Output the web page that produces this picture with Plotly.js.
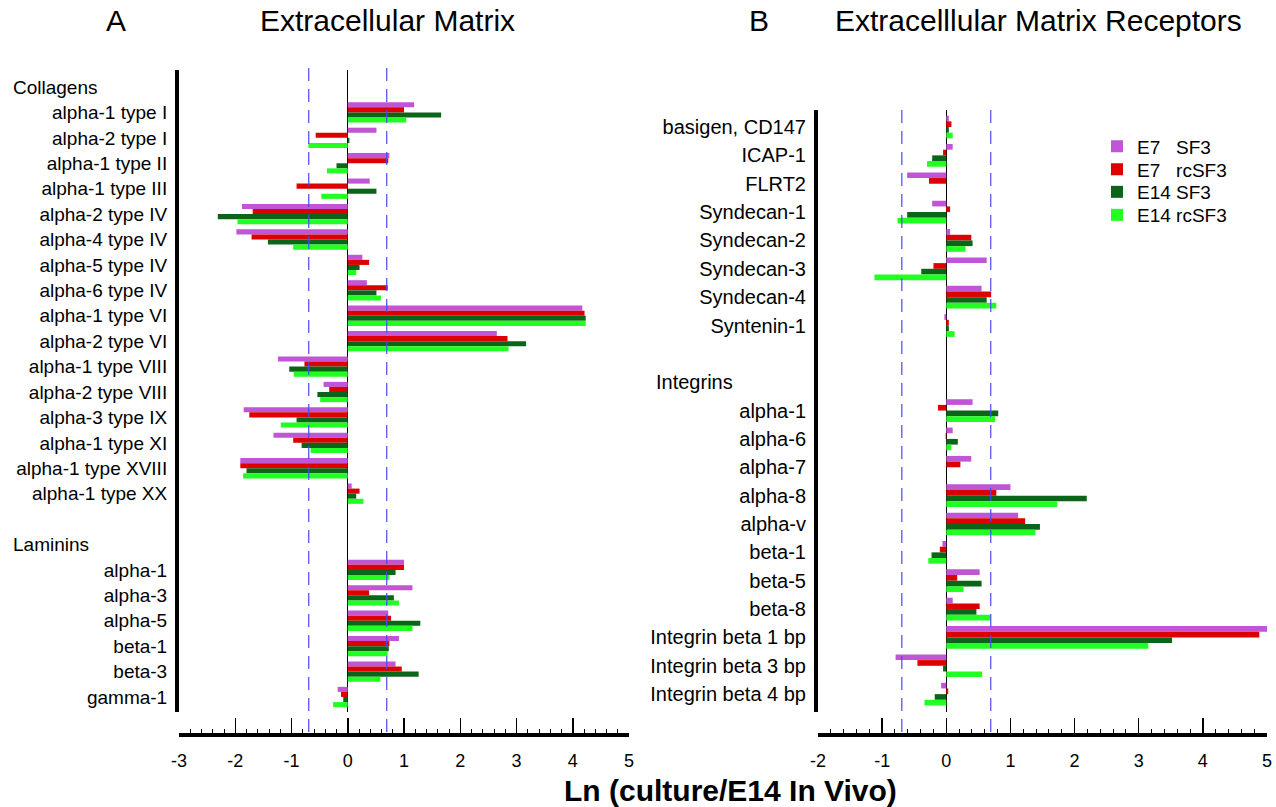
<!DOCTYPE html>
<html><head><meta charset="utf-8">
<script src="https://cdn.plot.ly/plotly-3.0.1.min.js"></script>
<style>html,body{margin:0;padding:0;background:#fff}</style>
</head><body><div id="chart" style="width:1276px;height:807px"></div>
<script>
// ---- series ----
const seriesNames = ["E7\u00a0\u00a0\u00a0SF3", "E7\u00a0\u00a0\u00a0rcSF3", "E14 SF3", "E14 rcSF3"];
const seriesColors = ["#c055d6", "#dd0000", "#0b6418", "#22ff22"];

// ---- Panel A: Extracellular Matrix ----
const collagenNames = ["alpha-1 type I","alpha-2 type I","alpha-1 type II","alpha-1 type III","alpha-2 type IV","alpha-4 type IV","alpha-5 type IV","alpha-6 type IV","alpha-1 type VI","alpha-2 type VI","alpha-1 type VIII","alpha-2 type VIII","alpha-3 type IX","alpha-1 type XI","alpha-1 type XVIII","alpha-1 type XX"];
const collagenE7SF3   = [1.18, 0.51, 0.74, 0.39, -1.88, -1.98, 0.26, 0.34, 4.17, 2.65, -1.24, -0.43, -1.85, -1.32, -1.91, 0.07];
const collagenE7rcSF3 = [1.00, -0.57, 0.72, -0.91, -1.69, -1.71, 0.38, 0.71, 4.21, 2.84, -0.77, -0.33, -1.75, -0.97, -1.91, 0.21];
const collagenE14SF3  = [1.66, 0.03, -0.20, 0.51, -2.31, -1.42, 0.21, 0.51, 4.23, 3.17, -1.04, -0.54, -0.91, -0.82, -1.80, 0.15];
const collagenE14rcSF3= [1.04, -0.70, -0.37, -0.47, -1.96, -0.97, 0.15, 0.59, 4.23, 2.86, -0.96, -0.49, -1.19, -0.66, -1.86, 0.28];

const lamininNames = ["alpha-1","alpha-3","alpha-5","beta-1","beta-3","gamma-1"];
const lamininE7SF3    = [1.00, 1.15, 0.72, 0.91, 0.85, -0.18];
const lamininE7rcSF3  = [1.00, 0.38, 0.77, 0.74, 0.96, -0.12];
const lamininE14SF3   = [0.85, 0.82, 1.29, 0.73, 1.26, -0.08];
const lamininE14rcSF3 = [0.74, 0.91, 1.15, 0.71, 0.58, -0.26];

// ---- Panel B: Extracellular Matrix Receptors ----
const receptorNames = ["basigen, CD147","ICAP-1","FLRT2","Syndecan-1","Syndecan-2","Syndecan-3","Syndecan-4","Syntenin-1"];
const receptorE7SF3    = [0.04, 0.10, -0.61, -0.22, 0.06, 0.63, 0.55, -0.03];
const receptorE7rcSF3  = [0.08, -0.05, -0.27, 0.06, 0.39, -0.20, 0.70, 0.04];
const receptorE14SF3   = [0.04, -0.22, 0, -0.61, 0.41, -0.39, 0.63, 0.04];
const receptorE14rcSF3 = [0.10, -0.30, 0, -0.76, 0.30, -1.12, 0.78, 0.13];

const integrinNames = ["alpha-1","alpha-6","alpha-7","alpha-8","alpha-v","beta-1","beta-5","beta-8","Integrin beta 1 bp","Integrin beta 3 bp","Integrin beta 4 bp"];
const integrinE7SF3    = [0.41, 0.10, 0.39, 1.00, 1.12, -0.06, 0.52, 0.10, 5.00, -0.79, -0.08];
const integrinE7rcSF3  = [-0.13, -0.01, 0.22, 0.78, 1.23, -0.10, 0.17, 0.52, 4.88, -0.45, 0.03];
const integrinE14SF3   = [0.81, 0.18, 0, 2.19, 1.46, -0.23, 0.55, 0.47, 3.52, -0.05, -0.18];
const integrinE14rcSF3 = [0.76, 0.08, 0, 1.73, 1.39, -0.28, 0.27, 0.69, 3.15, 0.56, -0.34];

// ---- tick labels ----
const xTickValsA = [-3, -2, -1, 0, 1, 2, 3, 4, 5];
const xTickTextA = ["-3", "-2", "-1", "0", "1", "2", "3", "4", "5"];
const xTickValsB = [-2, -1, 0, 1, 2, 3, 4, 5];
const xTickTextB = ["-2", "-1", "0", "1", "2", "3", "4", "5"];

const headersA = ["Collagens", "Laminins"];
const headersB = ["Integrins"];
const THRESH = Math.LN2;   // 2-fold change

// ---- build rows ----
const leftRows = ["Collagens", ...collagenNames, " ", "Laminins", ...lamininNames];
const leftTicks = leftRows.map(r => (headersA.includes(r) ? "" : r));
const rightRows = [...receptorNames, " ", "Integrins", ...integrinNames];
const rightTicks = rightRows.map(r => (headersB.includes(r) ? "" : r));

const colSeries = [collagenE7SF3, collagenE7rcSF3, collagenE14SF3, collagenE14rcSF3];
const lamSeries = [lamininE7SF3, lamininE7rcSF3, lamininE14SF3, lamininE14rcSF3];
const recSeries = [receptorE7SF3, receptorE7rcSF3, receptorE14SF3, receptorE14rcSF3];
const intSeries = [integrinE7SF3, integrinE7rcSF3, integrinE14SF3, integrinE14rcSF3];

const legendIds = ["legend", "legend2", "legend3", "legend4"];

const traces = [];
for (let s = 0; s < 4; s++) {
  traces.push({
    type: "bar", orientation: "h", name: seriesNames[s], legend: legendIds[s],
    x: [null, ...colSeries[s], null, null, ...lamSeries[s]],
    y: leftRows, xaxis: "x", yaxis: "y",
    marker: { color: seriesColors[s], line: { width: 0 } },
    showlegend: true, hoverinfo: "x+y"
  });
}
for (let s = 0; s < 4; s++) {
  traces.push({
    type: "bar", orientation: "h", name: seriesNames[s],
    x: [...recSeries[s], null, null, ...intSeries[s]],
    y: rightRows, xaxis: "x2", yaxis: "y2",
    marker: { color: seriesColors[s], line: { width: 0 } },
    showlegend: false, hoverinfo: "x+y"
  });
}

const W = 1276, H = 807;
const px = v => v / W;
const py = v => 1 - v / H;
const FONT = "Liberation Sans, Arial, Helvetica, sans-serif";

function xAxis(domain, range, vals, text) {
  return {
    domain: domain, range: range, anchor: "free", position: py(735),
    showline: true, linewidth: 4, linecolor: "#000",
    ticks: "inside", ticklen: 15, tickwidth: 1.5, tickcolor: "#000",
    tickmode: "array", tickvals: vals, ticktext: text,
    ticklabelstandoff: 8,
    minor: { tickmode: "linear", tick0: 0, dtick: 0.2, ticks: "inside", ticklen: 4, tickwidth: 1, tickcolor: "#000", showgrid: false },
    showgrid: false, zeroline: true, zerolinecolor: "#000", zerolinewidth: 1,
    tickfont: { size: 18, color: "#000" }, fixedrange: true
  };
}
function yAxis(domain, anchor, rows, ticks, range, size) {
  return {
    domain: domain, anchor: anchor, range: range, type: "category",
    categoryorder: "array", categoryarray: rows,
    tickmode: "array", tickvals: rows, ticktext: ticks,
    showline: true, linewidth: 4, linecolor: "#000",
    ticks: "", ticklabelstandoff: 4, showgrid: false, zeroline: false,
    tickfont: { size: size, color: "#000" }, fixedrange: true
  };
}

const dashLine = { color: "#4a4af0", width: 1.2, dash: "13px,8px" };
const shapes = [];
[-THRESH, THRESH].forEach(v => {
  shapes.push({ type: "line", xref: "x", yref: "paper", x0: v, x1: v, y0: py(732), y1: py(67), line: dashLine, layer: "above" });
  shapes.push({ type: "line", xref: "x2", yref: "paper", x0: v, x1: v, y0: py(732), y1: py(108), line: dashLine, layer: "above" });
});

const titleFont = { size: 30, color: "#000" };
const annotations = [
  { text: "A", x: px(116), y: py(21), xanchor: "center", yanchor: "middle", xref: "paper", yref: "paper", showarrow: false, font: titleFont },
  { text: "Extracellular Matrix", x: px(388), y: py(21), xanchor: "center", yanchor: "middle", xref: "paper", yref: "paper", showarrow: false, font: titleFont },
  { text: "B", x: px(759), y: py(21), xanchor: "center", yanchor: "middle", xref: "paper", yref: "paper", showarrow: false, font: titleFont },
  { text: "Extracelllular Matrix Receptors", x: px(1038), y: py(21), xanchor: "center", yanchor: "middle", xref: "paper", yref: "paper", showarrow: false, font: titleFont },
  { text: "<b>Ln (culture/E14 In Vivo)</b>", x: px(730), y: py(790), xanchor: "center", yanchor: "middle", xref: "paper", yref: "paper", showarrow: false, font: { size: 30, color: "#000" } }
];
headersA.forEach(h => annotations.push({ text: h, x: px(11), xanchor: "left", xref: "paper", y: leftRows.indexOf(h), yref: "y", showarrow: false, font: { size: 19, color: "#000" } }));
headersB.forEach(h => annotations.push({ text: h, x: px(654), xanchor: "left", xref: "paper", y: rightRows.indexOf(h), yref: "y2", showarrow: false, font: { size: 20, color: "#000" } }));

const layout = {
  width: W, height: H, margin: { l: 0, r: 0, t: 0, b: 0 },
  paper_bgcolor: "#fff", plot_bgcolor: "rgba(0,0,0,0)",
  font: { family: FONT, color: "#000" },
  barmode: "group", bargap: 0.2, bargroupgap: 0,
  xaxis: xAxis([px(179), px(629)], [-3, 5], xTickValsA, xTickTextA),
  yaxis: yAxis([py(712), py(70)], "x", leftRows, leftTicks, [24.59, -0.67], 19),
  xaxis2: xAxis([px(818), px(1267)], [-2, 5], xTickValsB, xTickTextB),
  yaxis2: yAxis([py(712), py(110)], "x2", rightRows, rightTicks, [20.63, -0.6], 20),
  showlegend: true,
  shapes: shapes, annotations: annotations
};
const legendCenters = [146.5, 169.5, 192, 215];
legendIds.forEach((id, i) => {
  layout[id] = { x: px(1097), y: py(legendCenters[i]), xanchor: "left", yanchor: "middle",
    font: { size: 19, color: "#000" }, bgcolor: "rgba(0,0,0,0)", borderwidth: 0,
    itemclick: false, itemdoubleclick: false };
});

Plotly.newPlot("chart", traces, layout, { displayModeBar: false, staticPlot: true });
</script></body></html>
